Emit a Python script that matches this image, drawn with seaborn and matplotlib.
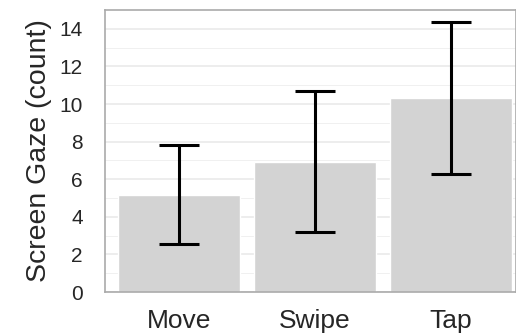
import numpy as np
import pandas as pd
import seaborn as sns
import matplotlib.pyplot as plt

tasks = ["Move", "Swipe", "Tap"]
means = [5.15, 6.9, 10.32]
err_low = [2.55, 3.18, 6.28]
err_high = [7.8, 10.68, 14.36]

df = pd.DataFrame({"task": tasks, "gaze": means})

sns.set_style("white")
plt.rcParams['font.family'] = ['Liberation Sans', 'DejaVu Sans']

fig = plt.figure(figsize=(5.16, 3.33), dpi=100)
ax = fig.add_axes([105/516, 41/333, 411/516, 282/333])

# grid first (ggplot-ish)
ax.set_axisbelow(True)
ax.set_yticks(np.arange(1, 15, 2), minor=True)
ax.grid(which="major", color="#e8e8e8", lw=1.1)
ax.grid(which="minor", axis="y", color="#f0f0f0", lw=0.7)

sns.barplot(data=df, x="task", y="gaze", color="#d3d3d3", saturation=1,
            width=0.9, ax=ax, errorbar=None)

x = np.arange(len(tasks))
m = np.array(means)
ax.errorbar(x, m, yerr=[m - np.array(err_low), np.array(err_high) - m],
            fmt="none", ecolor="black", elinewidth=2.2, capsize=14.5, capthick=2.2)

ax.set_ylim(0, 15)
ax.set_xlim(-0.545, 2.48)
ax.set_yticks(np.arange(0, 15, 2))
ax.set_xlabel("")
ax.set_ylabel("Screen Gaze (count)", fontsize=20.5, labelpad=5)
ax.tick_params(axis="y", which="major", labelsize=15, length=7, width=1, color="#333333", pad=9)
ax.tick_params(axis="y", which="minor", length=0)
ax.tick_params(axis="x", labelsize=19, length=7, width=1, color="#333333", pad=5)
for s in ax.spines.values():
    s.set_color("#aaaaaa")
    s.set_linewidth(1.2)

fig.savefig("out.png", dpi=100)
